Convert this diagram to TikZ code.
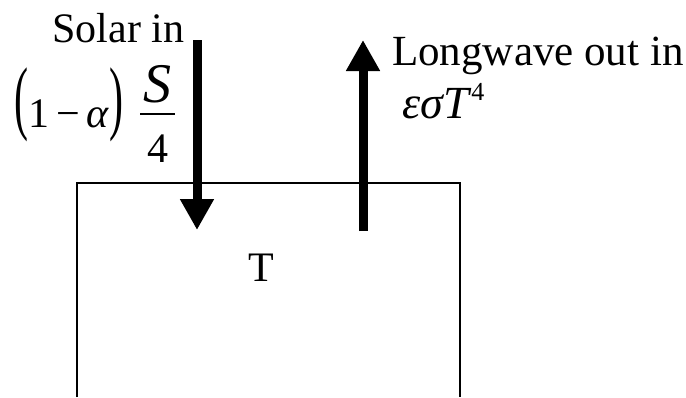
\documentclass[tikz,border=0pt]{standalone}
\usepackage{graphicx}
\usepackage{fontspec}
\setmainfont{Liberation Serif}
\usepackage{tikz}
\usetikzlibrary{arrows.meta,positioning}

\newcommand{\bigparen}[1]{\raisebox{3pt}{\scalebox{1}[1.95]{#1}}}

\begin{document}
\begin{tikzpicture}[x=1pt, y=-1pt,
    txt/.style={inner sep=0pt, font=\fontsize{42}{50}\selectfont},
    flux/.style={draw, line width=9pt, -{Triangle[width=32pt,length=31pt]}},
    wall/.style={draw, line width=2pt}]

    \useasboundingbox (0,0) rectangle (686,397);

    % ====== Box ======
    \draw [wall] (77,397) -- (77,183) -- (460,183) -- (460,397);
    \node [txt, anchor=base] (temp) at (261.5,281) {T};

    % ====== Solar in ======
    \node [txt, anchor=base] (solar) at (118.5,42) {Solar in};
    \node [txt, anchor=base west] (solarval) at (14,127)
        {\bigparen{(}1\,−\,\textit{α}\bigparen{)}};
    \node [txt, anchor=base, font=\fontsize{56}{60}\selectfont] (solarnum)
        at (157,102) {\textit{S}};
    \node [txt, anchor=base] (solarden) at (157.5,162) {4};
    \draw [line width=2pt] (140,114) -- (175,114);
    \coordinate (solartop) at (197,40);
    \coordinate (solartip) at (197,230);

    % ====== Longwave out ======
    \node [txt, anchor=base west, font=\fontsize{43}{50}\selectfont] (longwave)
        at (392,65) {Longwave out in};
    \node [txt, anchor=base west, font=\fontsize{46}{50}\selectfont] (lwval)
        at (402,118) {\textit{εσT}\raisebox{18pt}{\fontsize{26}{30}\selectfont 4}};
    \coordinate (lwbot) at (363,231);
    \coordinate (lwtip) at (363,40);

    % ====== Arrows ======
    \path [flux] (solartop) -- (solartip);
    \path [flux] (lwbot) -- (lwtip);
\end{tikzpicture}
\end{document}
